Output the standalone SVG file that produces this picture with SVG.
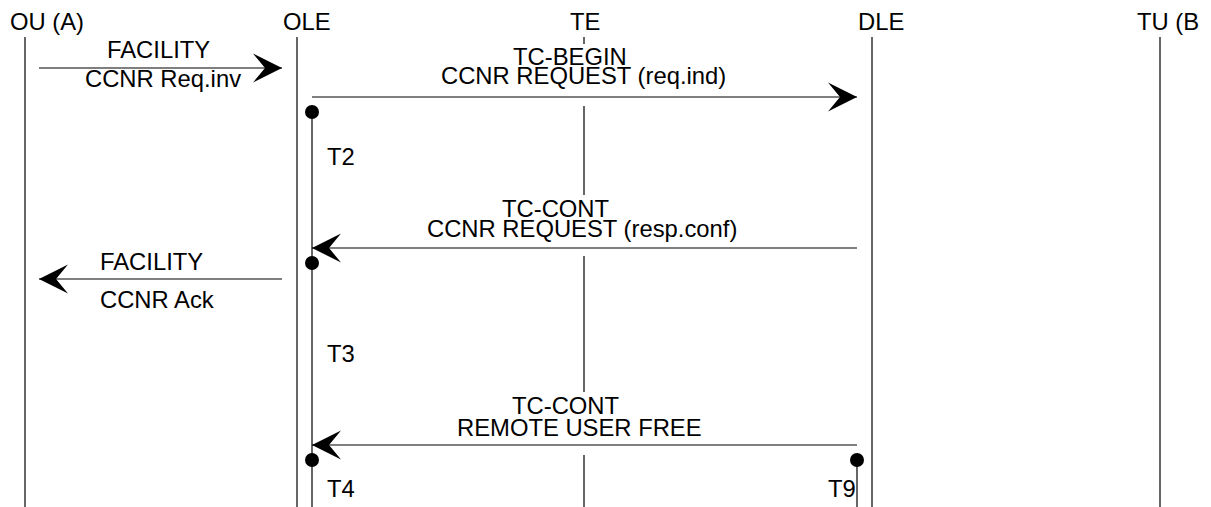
<svg xmlns="http://www.w3.org/2000/svg" width="1211" height="507" viewBox="0 0 1211 507">
<style>
text{font-family:"Liberation Sans",Arial,sans-serif;font-size:23.8px;fill:#000}
.life{stroke:#000;stroke-width:1.2;fill:none}
.msg{stroke:#000;stroke-width:1.2;fill:none;marker-end:url(#stealth)}
.dot{fill:#000}
</style>
<defs>
<marker id="stealth" viewBox="-31 -16 33 32" refX="0" refY="0" markerWidth="33" markerHeight="32" orient="auto" markerUnits="userSpaceOnUse">
<path d="M0,0 L-29,-14.5 L-17,0 L-29,14.5 Z" fill="#000"/>
</marker>
</defs>
<rect width="1211" height="507" fill="#fff"/>
<g id="node-ou">
<text x="10" y="30">OU (A)</text>
<line class="life" x1="25" y1="37" x2="25" y2="507"/>
</g>
<g id="node-ole">
<text x="283" y="30">OLE</text>
<line class="life" x1="297" y1="37" x2="297" y2="507"/>
</g>
<g id="node-te">
<text x="570" y="30">TE</text>
<line class="life" x1="584" y1="37" x2="584" y2="44"/>
<line class="life" x1="584" y1="106" x2="584" y2="195"/>
<line class="life" x1="584" y1="256" x2="584" y2="392"/>
<line class="life" x1="584" y1="455" x2="584" y2="507"/>
</g>
<g id="node-dle">
<text x="858" y="30">DLE</text>
<line class="life" x1="872" y1="37" x2="872" y2="507"/>
</g>
<g id="node-tu">
<text x="1137" y="30">TU (B</text>
<line class="life" x1="1160" y1="37" x2="1160" y2="507"/>
</g>
<g id="timers">
<line class="life" x1="312" y1="112" x2="312" y2="507"/>
<circle class="dot" cx="312" cy="112" r="7"/>
<circle class="dot" cx="312" cy="263" r="7"/>
<circle class="dot" cx="312" cy="460" r="7"/>
<line class="life" x1="857" y1="460" x2="857" y2="507"/>
<circle class="dot" cx="857" cy="460" r="7"/>
<text x="327" y="165">T2</text>
<text x="327" y="362">T3</text>
<text x="327" y="497">T4</text>
<text x="828" y="497">T9</text>
</g>
<g id="connectors">
<line class="msg" x1="39" y1="68" x2="282" y2="68"/>
<line class="msg" x1="312" y1="97" x2="857" y2="97"/>
<line class="msg" x1="857" y1="248" x2="312" y2="248"/>
<line class="msg" x1="282" y1="279" x2="39" y2="279"/>
<line class="msg" x1="857" y1="445" x2="312" y2="445"/>
<text x="107" y="58">FACILITY</text>
<text x="85" y="87">CCNR Req.inv</text>
<text x="513" y="65">TC-BEGIN</text>
<text x="441" y="84">CCNR REQUEST (req.ind)</text>
<text x="502" y="217">TC-CONT</text>
<text x="427" y="237">CCNR REQUEST (resp.conf)</text>
<text x="100" y="270">FACILITY</text>
<text x="100" y="308">CCNR Ack</text>
<text x="512" y="414">TC-CONT</text>
<text x="457" y="436">REMOTE USER FREE</text>
</g>
</svg>
